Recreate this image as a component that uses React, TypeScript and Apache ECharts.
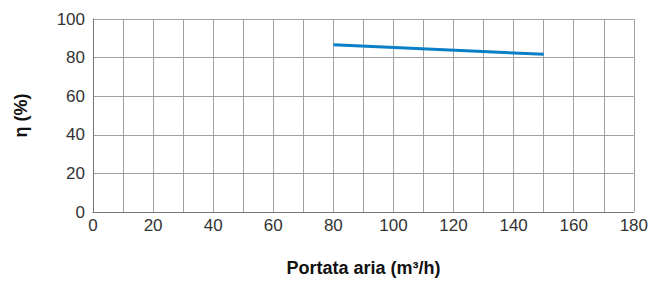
import React, { useEffect, useRef } from "react";
import * as echarts from "echarts";

const flowRates = [80, 150];
const efficiency = [86.7, 81.7];
const xName = "Portata aria (m³/h)";
const yName = "η (%)";

export default function App() {
  const ref = useRef<HTMLDivElement>(null);
  useEffect(() => {
    if (!ref.current) return;
    const chart = echarts.init(ref.current, null, { renderer: "svg" });
    const font = "'Liberation Sans', Arial, Helvetica, sans-serif";
    chart.setOption({
      animation: false,
      grid: { left: 93, right: 16, top: 19, bottom: 65, containLabel: false },
      xAxis: {
        type: "value",
        min: 0,
        max: 180,
        interval: 20,
        name: xName,
        nameLocation: "middle",
        nameGap: 47,
        nameTextStyle: { fontFamily: font, fontSize: 18, fontWeight: "bold", color: "#111" },
        axisLine: { show: true, lineStyle: { color: "#777", width: 1 } },
        axisTick: { show: false },
        axisLabel: { fontFamily: font, fontSize: 17, color: "#333", margin: 5 },
        splitLine: { show: true, lineStyle: { color: "#a0a0a0", width: 1 } },
        minorTick: { show: false, splitNumber: 2 },
        minorSplitLine: { show: true, lineStyle: { color: "#a0a0a0", width: 1 } },
      },
      yAxis: {
        type: "value",
        min: 0,
        max: 100,
        interval: 20,
        name: yName,
        nameLocation: "middle",
        nameGap: 63,
        nameRotate: 90,
        nameTextStyle: { fontFamily: font, fontSize: 18, fontWeight: "bold", color: "#111" },
        axisLine: { show: true, lineStyle: { color: "#777", width: 1 } },
        axisTick: { show: false },
        axisLabel: { fontFamily: font, fontSize: 17, color: "#333", margin: 8 },
        splitLine: { show: true, lineStyle: { color: "#a0a0a0", width: 1 } },
      },
      series: [
        {
          type: "line",
          data: flowRates.map((x, i) => [x, efficiency[i]]),
          showSymbol: false,
          lineStyle: { color: "#0a7fc8", width: 3 },
        },
      ],
    });
    return () => chart.dispose();
  }, []);
  return <div ref={ref} style={{ width: 651, height: 282, position: "absolute", left: 0, top: 0 }} />;
}
